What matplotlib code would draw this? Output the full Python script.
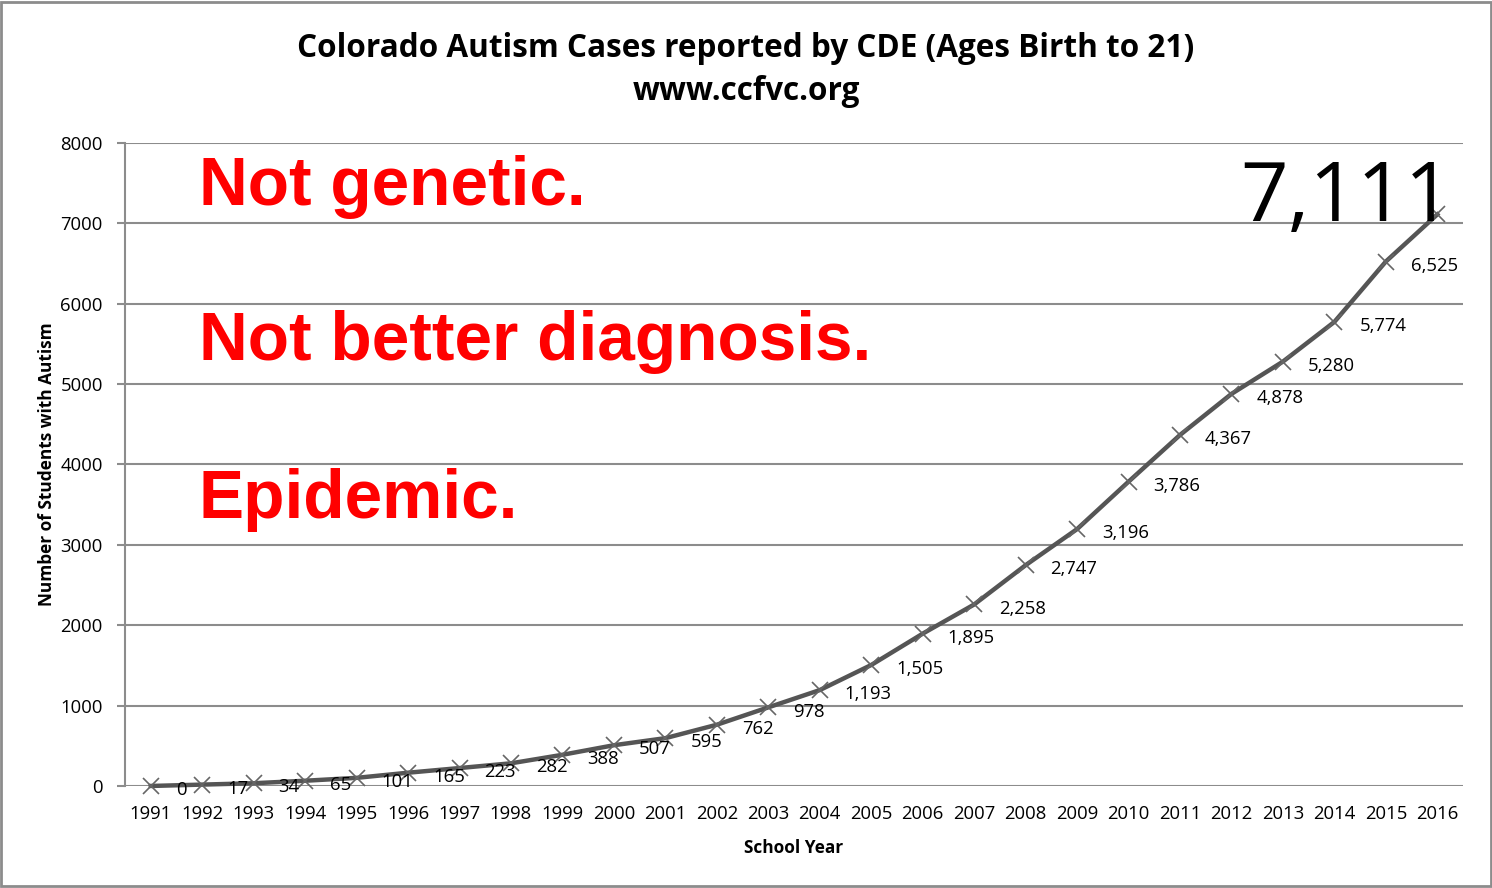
import matplotlib
matplotlib.use("Agg")
import matplotlib.pyplot as plt
from matplotlib.patches import Rectangle

# ---------------------------------------------------------------------------
# Data
# ---------------------------------------------------------------------------
YEARS = [str(y) for y in range(1991, 2017)]
CASES = [0, 17, 34, 65, 101, 165, 223, 282, 388, 507, 595, 762, 978, 1193,
         1505, 1895, 2258, 2747, 3196, 3786, 4367, 4878, 5280, 5774, 6525,
         7111]
Y_TICKS = [0, 1000, 2000, 3000, 4000, 5000, 6000, 7000, 8000]
CLAIMS = ["Not genetic.", "Not better diagnosis.", "Epidemic."]

TITLE = "Colorado Autism Cases reported by CDE (Ages Birth to 21)\nwww.ccfvc.org"
FONT = "Open Sans"
GRID_GREY = "#8c8c8c"
LINE_GREY = "#555555"

plt.rcParams.update({
    "font.family": FONT,
    "font.size": 13,
})

fig = plt.figure(figsize=(14.92, 8.88), dpi=100)
ax = fig.add_axes([0.0838, 0.1149, 0.8968, 0.7241])

x = list(range(len(YEARS)))
ax.plot(x, CASES, color=LINE_GREY, linewidth=3.2, marker="x",
        markersize=11, markeredgewidth=1.2, markeredgecolor="#666666",
        zorder=3, clip_on=False)

# data labels, offset right-below each point
for xi, v in zip(x[:-1], CASES[:-1]):
    ax.annotate(f"{v:,}", (xi, v), xytext=(18, -3), textcoords="offset points",
                ha="left", va="center", fontsize=13.3, color="black")
ax.annotate(f"{CASES[-1]:,}", (x[-1], CASES[-1]), xytext=(11, -5),
            textcoords="offset points", ha="right", va="baseline",
            fontsize=60, color="black")

ax.set_xlim(-0.5, len(YEARS) - 0.5)
ax.set_ylim(0, 8000)
ax.set_xticks(x)
ax.set_xticklabels(YEARS)
ax.set_yticks(Y_TICKS)
ax.tick_params(axis="x", length=0, pad=14, labelsize=13.3)
ax.tick_params(axis="y", length=6, width=1.5, color=GRID_GREY, pad=10,
               labelsize=13.3)

ax.grid(axis="y", color=GRID_GREY, linewidth=1.5)
ax.set_axisbelow(True)
for side in ("top", "right", "bottom"):
    ax.spines[side].set_visible(False)
ax.spines["left"].set_color(GRID_GREY)
ax.spines["left"].set_linewidth(1.5)

ax.set_xlabel("School Year", fontsize=12.4, fontweight="bold", labelpad=11)
ax.set_ylabel("Number of Students with Autism", fontsize=12.4,
              fontweight="bold", labelpad=3)

for label, yb in zip(CLAIMS, [0.9036, 0.6625, 0.4168]):
    ax.text(0.055, yb, label, transform=ax.transAxes, ha="left",
            va="baseline", fontsize=48.7, fontweight="bold", color="#ff0000",
            family="Liberation Sans")

fig.text(0.5, 0.921, TITLE, ha="center", va="center", fontsize=22.7,
         fontweight="bold", linespacing=1.4)

# grey frame around the whole chart
fig.patches.append(Rectangle((0.001, 0.002), 0.998, 0.996,
                             transform=fig.transFigure, fill=False,
                             edgecolor="#8c8c8c", linewidth=2))

fig.savefig("out.png", dpi=100, facecolor="white")
